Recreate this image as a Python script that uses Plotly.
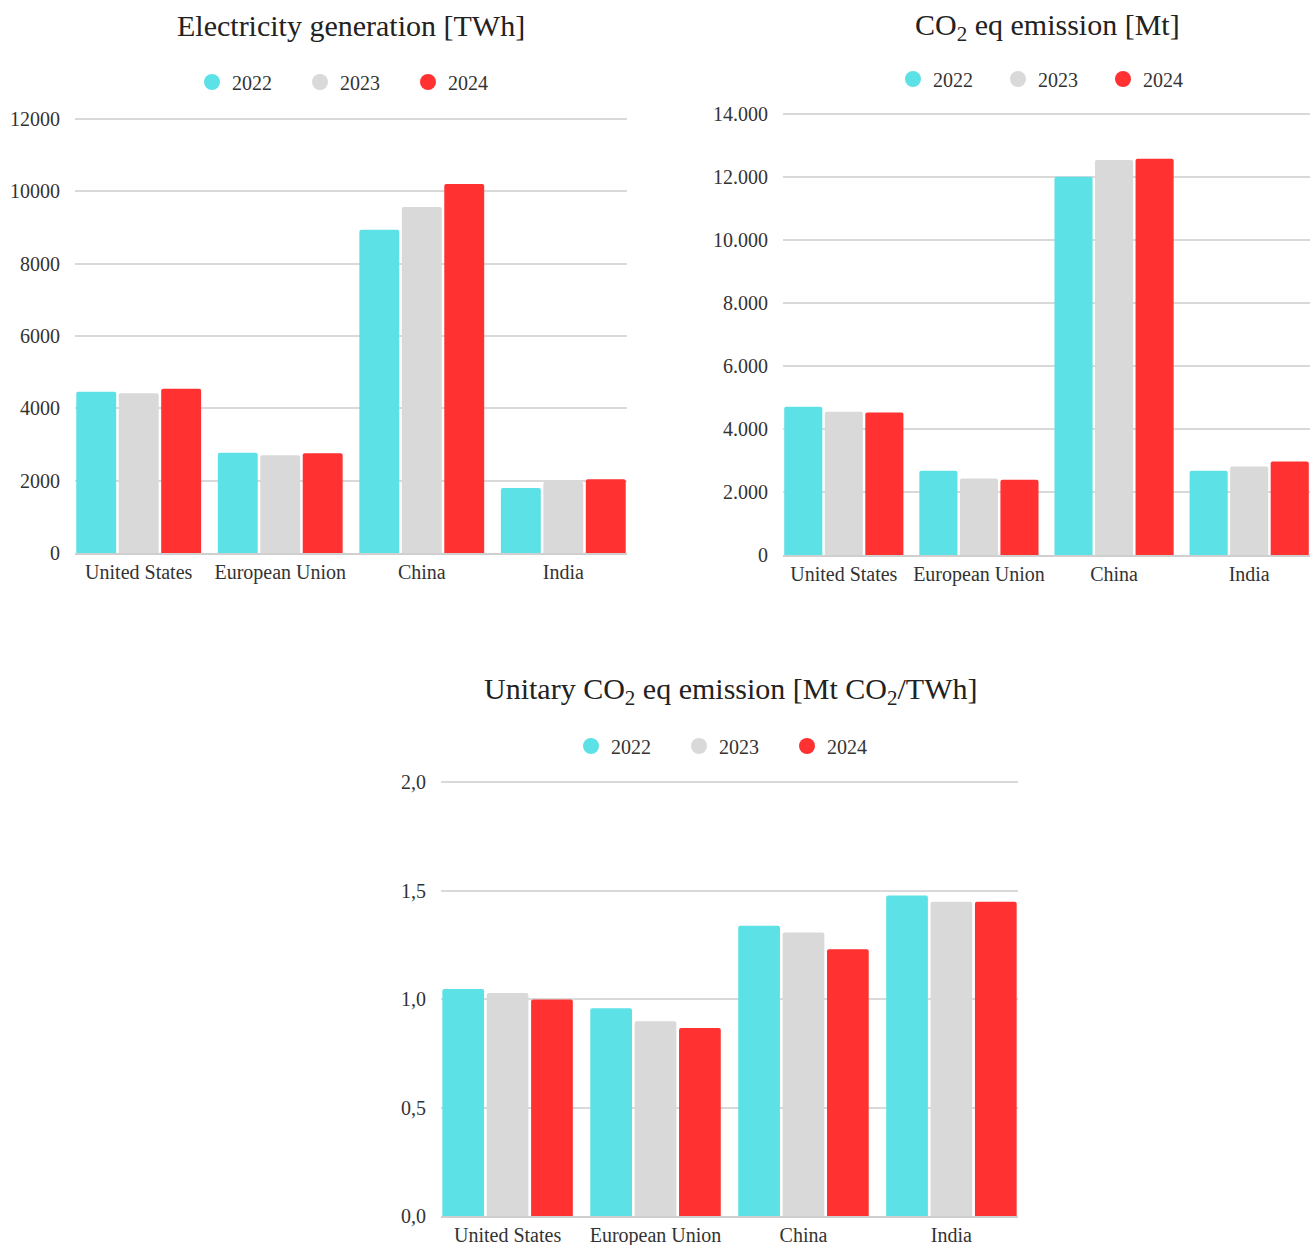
import plotly.graph_objects as go

# ---------------- data ----------------
categories = ["United States", "European Union", "China", "India"]
years = ["2022", "2023", "2024"]
year_colors = ["#5CE1E6", "#D9D9D9", "#FF3131"]

generation_2022 = [4460, 2773, 8938, 1797]
generation_2023 = [4415, 2700, 9566, 1963]
generation_2024 = [4543, 2756, 10202, 2037]

emission_2022 = [4710, 2676, 12010, 2676]
emission_2023 = [4549, 2432, 12540, 2813]
emission_2024 = [4527, 2390, 12581, 2972]

unitary_2022 = [1.046, 0.957, 1.338, 1.477]
unitary_2023 = [1.028, 0.897, 1.307, 1.448]
unitary_2024 = [0.998, 0.866, 1.229, 1.448]

titles = [
    "Electricity generation [TWh]",
    "CO<sub>2</sub> eq emission [Mt]",
    "Unitary CO<sub>2</sub> eq emission [Mt CO<sub>2</sub>/TWh]",
]

# ---------------- layout helpers ----------------
W, H = 1313, 1245
FONT = "Liberation Serif, Times New Roman, serif"
TXT = "#333333"
GRID = "#D9D9D9"
BARGAP = 0.1
EXTRA = 3  # px of headroom so the top gridline is not clipped


def dx(a, b):
    return [a / W, b / W]


def dy(top, bottom):
    return [1 - bottom / H, 1 - (top - EXTRA) / H]


def yrange(top_val, top_px, bottom_px):
    per_px = top_val / (bottom_px - top_px)
    return [0, top_val + EXTRA * per_px]


fig = go.Figure()

panels = [
    dict(series=[generation_2022, generation_2023, generation_2024], xa="x", ya="y", lg="legend"),
    dict(series=[emission_2022, emission_2023, emission_2024], xa="x2", ya="y2", lg="legend2"),
    dict(series=[unitary_2022, unitary_2023, unitary_2024], xa="x3", ya="y3", lg="legend3"),
]

for p in panels:
    for yr, col, vals in zip(years, year_colors, p["series"]):
        fig.add_trace(go.Bar(
            x=categories, y=vals, name=yr, marker_color=col,
            marker_line_width=0, xaxis=p["xa"], yaxis=p["ya"],
            showlegend=False, hoverinfo="x+y+name",
        ))
    for yr, col in zip(years, year_colors):
        fig.add_trace(go.Scatter(
            x=[None], y=[None], mode="markers", name=yr,
            marker=dict(color=col, size=16, symbol="circle"),
            xaxis=p["xa"], yaxis=p["ya"], legend=p["lg"], showlegend=True,
        ))

xcommon = dict(
    type="category", range=[-0.5 + BARGAP / 2, 3.5 - BARGAP / 2],
    showgrid=False, showline=True, linecolor="#CFCFCF", linewidth=2,
    ticks="", tickfont=dict(family=FONT, size=20, color=TXT),
    ticklabelstandoff=0, fixedrange=True, automargin=False,
)
ycommon = dict(
    showgrid=True, gridcolor=GRID, gridwidth=1.5, zeroline=False,
    showline=False, ticks="", tickfont=dict(family=FONT, size=20, color=TXT),
    ticklabelstandoff=14, fixedrange=True, automargin=False,
)

legend_font = dict(family=FONT, size=20, color=TXT)


def legend_cfg(x_px, y_px, entry_w):
    return dict(
        orientation="h", xanchor="left", yanchor="middle",
        x=x_px / W, y=1 - y_px / H,
        font=legend_font, bgcolor="rgba(0,0,0,0)",
        entrywidth=entry_w, entrywidthmode="pixels",
        itemclick=False, itemdoubleclick=False,
    )


fig.update_layout(
    width=W, height=H,
    margin=dict(l=0, r=0, t=0, b=0, pad=0, autoexpand=False),
    paper_bgcolor="white", plot_bgcolor="white",
    separators=",.",
    barmode="group", bargap=BARGAP, bargroupgap=0.06, barcornerradius=2,
    font=dict(family=FONT, color=TXT),
    xaxis=dict(domain=dx(75, 627), anchor="y", **xcommon),
    yaxis=dict(domain=dy(119, 553), anchor="x", range=yrange(12000, 119, 553),
               tick0=0, dtick=2000, tickformat="d", **ycommon),
    xaxis2=dict(domain=dx(783, 1310), anchor="y2", **xcommon),
    yaxis2=dict(domain=dy(114, 555), anchor="x2", range=yrange(14000, 114, 555),
                tick0=0, dtick=2000, tickformat=",d", **ycommon),
    xaxis3=dict(domain=dx(441, 1018), anchor="y3", **xcommon),
    yaxis3=dict(domain=dy(782, 1216), anchor="x3", range=yrange(2.0, 782, 1216),
                tick0=0, dtick=0.5, tickformat=".1f", **ycommon),
    legend=legend_cfg(192, 82, 63),
    legend2=legend_cfg(893, 79, 60),
    legend3=legend_cfg(571, 746, 63),
)

title_pos = [(351, 25), (1047, 27), (730, 691)]
for t, (tx, ty) in zip(titles, title_pos):
    fig.add_annotation(
        text=t, x=tx / W, y=1 - ty / H, xref="paper", yref="paper",
        xanchor="center", yanchor="middle", showarrow=False,
        font=dict(family=FONT, size=30, color="#222222"),
    )

fig.write_html("out.html")
